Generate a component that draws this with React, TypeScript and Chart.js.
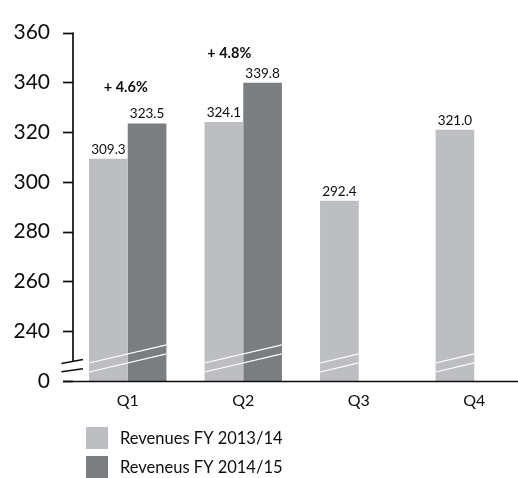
import React, { useEffect, useRef } from 'react';
import { Chart, registerables } from 'chart.js';

Chart.register(...registerables);

const categories = ['Q1', 'Q2', 'Q3', 'Q4'];
const revenuesFY1314 = [309.3, 324.1, 292.4, 321.0];
const revenuesFY1415: (number | null)[] = [323.5, 339.8, null, null];
const growthLabels = ['+ 4.6%', '+ 4.8%', '', ''];
const seriesNames = ['Revenues FY 2013/14', 'Reveneus FY 2014/15'];
const seriesColors = ['#bdbec1', '#7b7e81'];
const axisMin = 220; // shown as "0" (broken axis)
const axisMax = 360;
const axisStep = 20;

const FONT = 'Lato, "Open Sans", sans-serif';
const INK = '#0d0d0d';

const decorPlugin = {
  id: 'decor',
  afterDatasetsDraw(chart: any) {
    const { ctx, chartArea } = chart;
    const bottom = chartArea.bottom;
    const m0 = chart.getDatasetMeta(0);
    const m1 = chart.getDatasetMeta(1);
    m0.data.forEach((el: any, i: number) => {
      const p0 = el.getProps(['x', 'width'], true);
      const left = p0.x - p0.width / 2;
      let right = p0.x + p0.width / 2;
      if (chart.data.datasets[1].data[i] != null) {
        const p1 = m1.data[i].getProps(['x', 'width'], true);
        right = p1.x + p1.width / 2;
      }
      ctx.save();
      ctx.beginPath();
      ctx.rect(left, chartArea.top, right - left, bottom - chartArea.top);
      ctx.clip();
      ctx.strokeStyle = '#ffffff';
      ctx.lineWidth = 1.2;
      [18, 9].forEach((off) => {
        ctx.beginPath();
        ctx.moveTo(left, bottom - off);
        ctx.lineTo(right, bottom - off - 0.235 * (right - left));
        ctx.stroke();
      });
      ctx.restore();
    });
  },
  afterDraw(chart: any) {
    const { ctx, chartArea, scales } = chart;
    const ys = scales.y;
    const ax = chartArea.left + 3;
    const bottom = chartArea.bottom;
    ctx.save();

    // value labels
    ctx.fillStyle = INK;
    ctx.font = `13.5px ${FONT}`;
    ctx.textAlign = 'center';
    ctx.textBaseline = 'alphabetic';
    chart.data.datasets.forEach((ds: any, di: number) => {
      const meta = chart.getDatasetMeta(di);
      ds.data.forEach((v: number | null, i: number) => {
        if (v == null) return;
        const el = meta.data[i];
        ctx.fillText(v.toFixed(1), el.x, el.y - 5);
      });
    });

    // growth labels
    ctx.font = `bold 14.5px ${FONT}`;
    const gdx = [-2, -14, 0, 0];
    const gdy = [-27, -21, 0, 0];
    growthLabels.forEach((g, i) => {
      if (!g) return;
      const el = chart.getDatasetMeta(1).data[i];
      const p0 = chart.getDatasetMeta(0).data[i];
      const cx = (p0.x + el.x) / 2;
      ctx.fillText(g, cx + gdx[i], el.y - 4 + gdy[i]);
    });

    // y axis line (broken)
    ctx.strokeStyle = INK;
    ctx.lineWidth = 1.7;
    ctx.beginPath();
    ctx.moveTo(ax, chartArea.top);
    ctx.lineTo(ax, bottom - 20);
    ctx.stroke();

    // y tick marks
    ys.ticks.forEach((t: any) => {
      const py = Math.round(ys.getPixelForValue(t.value)) + 0.5;
      ctx.beginPath();
      ctx.moveTo(ax - 10, py);
      ctx.lineTo(ax, py);
      ctx.stroke();
    });

    // x axis line
    ctx.lineWidth = 1.4;
    ctx.beginPath();
    ctx.moveTo(ax - 10, Math.round(bottom) + 0.5);
    ctx.lineTo(chart.width, Math.round(bottom) + 0.5);
    ctx.stroke();

    // axis break marks
    ctx.lineWidth = 1.4;
    [[17.5, 21.5], [9.2, 12.2]].forEach(([a, b]) => {
      ctx.beginPath();
      ctx.moveTo(ax - 11.5, bottom - a);
      ctx.lineTo(ax + 10, bottom - b);
      ctx.stroke();
    });

    // legend
    ctx.font = `16.5px ${FONT}`;
    ctx.textAlign = 'left';
    ctx.textBaseline = 'middle';
    seriesNames.forEach((name, i) => {
      const top = 427 + i * 29;
      ctx.fillStyle = seriesColors[i];
      ctx.fillRect(86, top, 22, 22);
      ctx.fillStyle = INK;
      ctx.fillText(name, 120, top + 11.5);
    });
    ctx.restore();
  },
};

export default function App() {
  const ref = useRef<HTMLCanvasElement | null>(null);
  useEffect(() => {
    if (!ref.current) return;
    const chart = new Chart(ref.current, {
      type: 'bar',
      data: {
        labels: categories,
        datasets: [
          {
            label: seriesNames[0],
            data: revenuesFY1314,
            backgroundColor: seriesColors[0],
            borderWidth: 0,
            categoryPercentage: 0.67,
            barPercentage: 1,
          },
          {
            label: seriesNames[1],
            data: revenuesFY1415,
            backgroundColor: seriesColors[1],
            borderWidth: 0,
            categoryPercentage: 0.67,
            barPercentage: 1,
          },
        ],
      },
      options: {
        animation: false,
        responsive: false,
        layout: { padding: { left: 0, right: 28, top: 26, bottom: 0 } },
        plugins: { legend: { display: false }, tooltip: { enabled: false } },
        scales: {
          x: {
            grid: { display: false, drawTicks: false },
            border: { display: false },
            ticks: { font: { family: FONT, size: 16 }, color: INK, padding: 10 },
            afterFit: (s: any) => {
              s.height = 97;
            },
          },
          y: {
            min: axisMin,
            max: axisMax,
            grid: { display: false, drawTicks: false },
            border: { display: false },
            ticks: {
              stepSize: axisStep,
              font: { family: FONT, size: 21 },
              color: INK,
              padding: 20,
              callback: (v: any) => (Number(v) === axisMin ? '0' : String(v)),
            },
            afterFit: (s: any) => {
              s.width = 70;
            },
          },
        },
      },
      plugins: [decorPlugin],
    });
    return () => chart.destroy();
  }, []);
  return (
    <div
      style={{
        position: 'fixed',
        left: 0,
        top: 0,
        width: 518,
        height: 478,
        overflow: 'hidden',
        background: '#fff',
      }}
    >
      <canvas ref={ref} width={560} height={478} style={{ display: 'block' }} />
    </div>
  );
}
